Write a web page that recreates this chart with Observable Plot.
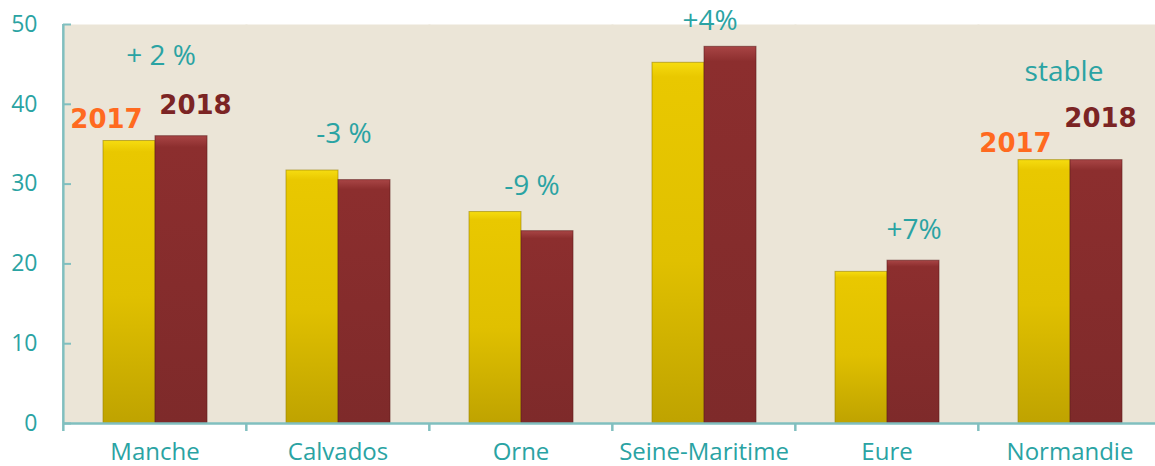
<!DOCTYPE html>
<html>
<head>
<meta charset="utf-8">
<script src="https://cdn.jsdelivr.net/npm/d3@7"></script>
<script src="https://cdn.jsdelivr.net/npm/@observablehq/plot@0.6"></script>
<style>
  html, body { margin: 0; padding: 0; background: #ffffff; }
  #chart svg { display: block; }
</style>
</head>
<body>
<div id="chart"></div>
<script>
// ---------- data ----------
const categories = ["Manche", "Calvados", "Orne", "Seine-Maritime", "Eure", "Normandie"];
const years = ["2017", "2018"];
const values2017 = [35.4, 31.7, 26.5, 45.2, 19.0, 33.0];
const values2018 = [36.0, 30.5, 24.1, 47.2, 20.4, 33.0];
const changeLabels = ["+ 2 %", "-3 %", "-9 %", "+4%", "+7%", "stable"];
const yTicks = [0, 10, 20, 30, 40, 50];

// ---------- layout ----------
const W = 1155, H = 466, ML = 62, MR = -7, MT = 24, MB = 43;
const facetW = (W - ML - MR) / categories.length;
const teal = "#2aa3a3";
const axisColor = "#80bfbf";
const bg = "#ebe5d7";
// annotation anchors (value units) and horizontal nudges
const changeLabelY = [46.1, 36.3, 29.8, 50.4, 24.3, 44.0];
const changeLabelDx = [6, 6, 11, 6, 27, -6];

const rows = [];
categories.forEach((c, i) => {
  rows.push({cat: c, year: "2017", value: values2017[i]});
  rows.push({cat: c, year: "2018", value: values2018[i]});
});
const catRows = categories.map(c => ({cat: c}));

const changeMarks = categories.map((c, i) =>
  Plot.text([{cat: c, label: changeLabels[i], y: changeLabelY[i]}], {
    fx: "cat", y: "y", text: "label", frameAnchor: "middle",
    dx: changeLabelDx[i], fill: teal, fontSize: 28, lineAnchor: "middle"
  })
);

function yearLabel(cat, year, dx, dyPx) {
  const i = categories.indexOf(cat);
  const v = year === "2017" ? values2017[i] : values2018[i];
  return Plot.text([{cat, year, v}], {
    fx: "cat", x: "year", y: "v", text: "year", dx, dy: -dyPx,
    fill: year === "2017" ? "#ff6a1f" : "#7b2424",
    fontFamily: "DejaVu Sans", fontWeight: "bold", fontSize: 26, lineAnchor: "middle"
  });
}

const chart = Plot.plot({
  width: W, height: H,
  marginLeft: ML, marginRight: MR, marginTop: MT, marginBottom: MB,
  style: {fontFamily: "'Open Sans', sans-serif", background: "transparent", overflow: "visible"},
  fx: {domain: categories, padding: 0, label: null, axis: null},
  x: {domain: years, paddingInner: 0, paddingOuter: 0.75, axis: null},
  y: {domain: [0, 50], label: null, axis: null},
  marks: [
    Plot.frame({fill: bg, stroke: null, insetLeft: -1, insetRight: -1}),
    Plot.barY(rows, {
      fx: "cat", x: "year", y: "value",
      fill: d => d.year === "2017" ? "url(#g2017)" : "url(#g2018)",
      stroke: d => d.year === "2017" ? "#9a8200" : "#5e1c1c",
      strokeWidth: 1, strokeOpacity: 0.6, inset: 0
    }),
    Plot.ruleY([0], {stroke: axisColor, strokeWidth: 2.5}),
    Plot.ruleX(catRows, {
      x: null, fx: "cat", dx: -facetW / 2,
      y1: -1.0, y2: d => d.cat === categories[0] ? 50 : 0,
      stroke: axisColor, strokeWidth: 2.5
    }),
    Plot.axisY({
      ticks: yTicks, tickFormat: d => d, tickSize: -8, tickPadding: 34,
      stroke: axisColor, strokeWidth: 2, color: teal, fontSize: 23, label: null
    }),
    Plot.axisFx({
      anchor: "bottom", tickSize: 0, tickPadding: 19, color: teal, fontSize: 24, label: null
    }),
    ...changeMarks,
    yearLabel("Manche", "2017", -23, 21),
    yearLabel("Manche", "2018", 14, 31),
    yearLabel("Normandie", "2017", -29, 16),
    yearLabel("Normandie", "2018", 4, 41)
  ]
});

// gradients for bevelled bars
const svg = d3.select(chart.tagName.toLowerCase() === "svg" ? chart : chart.querySelector("svg"));
const defs = svg.insert("defs", ":first-child");
const g1 = defs.append("linearGradient").attr("id", "g2017").attr("x1", 0).attr("y1", 0).attr("x2", 0).attr("y2", 1);
g1.append("stop").attr("offset", "0%").attr("stop-color", "#f6dc10");
g1.append("stop").attr("offset", "4%").attr("stop-color", "#e9c800");
g1.append("stop").attr("offset", "55%").attr("stop-color", "#e0c000");
g1.append("stop").attr("offset", "100%").attr("stop-color", "#bfa300");
const g2 = defs.append("linearGradient").attr("id", "g2018").attr("x1", 0).attr("y1", 0).attr("x2", 0).attr("y2", 1);
g2.append("stop").attr("offset", "0%").attr("stop-color", "#a84545");
g2.append("stop").attr("offset", "4%").attr("stop-color", "#8c2e2e");
g2.append("stop").attr("offset", "100%").attr("stop-color", "#7e2a2a");

document.getElementById("chart").appendChild(chart);
</script>
</body>
</html>
